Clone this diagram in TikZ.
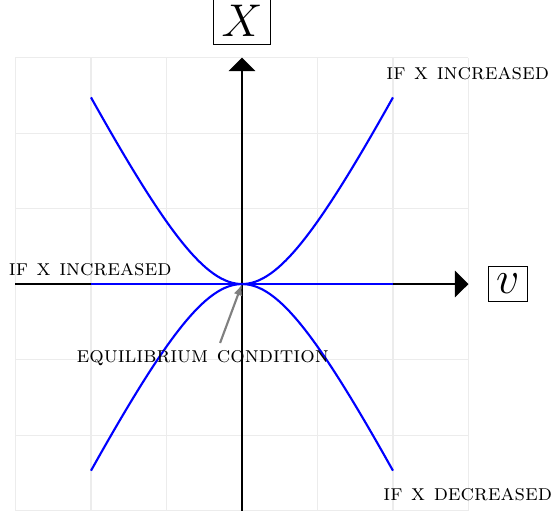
\documentclass[tikz,border=0pt]{standalone}
\usepackage{amsmath}
\usepackage{tikz}
\usetikzlibrary{arrows.meta, positioning}

\begin{document}
\begin{tikzpicture}[
  x=1cm,y=1cm,
  axis/.style={thick, -{Triangle[length=1.8mm, width=3.5mm]}},
  curve/.style={blue, thick},
  axlabel/.style={draw, font=\LARGE, inner sep=3pt},
  note/.style={font=\fontsize{8.6}{10}\selectfont\scshape, inner sep=1pt}
]
\useasboundingbox (-3.205,-3.086) rectangle (4.106,3.762);

% grid
\draw[gray!15, thin] (-3,-3) grid (3,3);

% axes
\coordinate (o) at (0,0);
\coordinate (vl) at (-3,0);
\coordinate (vr) at (3,0);
\coordinate (xb) at (0,-3);
\coordinate (xt) at (0,3);
\draw[axis] (vl) -- (vr);
\draw[axis] (xb) -- (xt);
\node[axlabel] (xlab) at (0,3.48) {$X$};
\node[axlabel] (vlab) at (3.52,0) {$v$};

% branches
\foreach \t in {1,-1}
  \draw[curve, domain=-2:2, samples=80] plot (\x, {\t*2*(sqrt(1+\x*\x)-1)});
\draw[curve] (-2,0) -- (2,0);

% labels
\node[note] (inc1) at (2.99,2.79) {if x increased};
\node[note] (inc2) at (-2.01,0.19) {if x increased};
\node[note] (dec) at (2.99,-2.79) {if x decreased};
\node[note] (eq) at (-0.52,-0.98) {equilibrium condition};
\coordinate (eqs) at (-0.29,-0.78);
\draw[gray, thick, -{Latex[length=1.5mm]}] (eqs) -- (o);

\end{tikzpicture}
\end{document}
